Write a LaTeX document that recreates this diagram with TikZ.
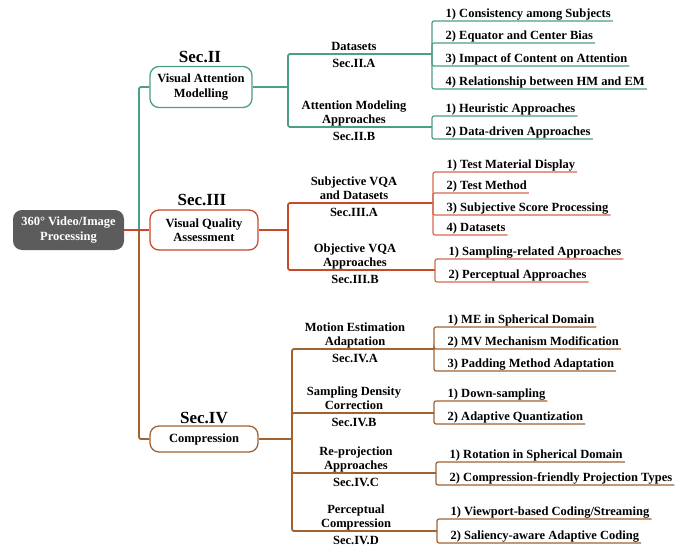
\documentclass[tikz,border=0pt]{standalone}
\usepackage{fontspec}
\setmainfont{Liberation Serif}
\definecolor{cgreen}{RGB}{76,158,132}
\definecolor{cred}{RGB}{200,72,42}
\definecolor{credl}{RGB}{214,105,80}
\definecolor{cbrown}{RGB}{160,99,48}
\definecolor{croot}{RGB}{92,92,92}
\begin{document}
\begin{tikzpicture}[x=1pt,y=-1pt,
  txt/.style={font=\fontsize{12.5}{14.5}\selectfont\bfseries, inner sep=0pt},
  secbox/.style={txt, draw, line width=1.3pt, rounded corners=9pt, fill=white, align=center, minimum width=108pt, minimum height=40pt},
  rootbox/.style={txt, fill=croot, text=white, rounded corners=9pt, align=center, minimum width=111pt, minimum height=40pt},
  bigsec/.style={font=\fontsize{17}{20}\selectfont\bfseries, inner sep=0pt},
  mid/.style={txt, align=center, anchor=south, text depth=3pt},
  seclbl/.style={txt, anchor=base},
  leaf/.style={txt, anchor=south west, inner xsep=2pt, inner ysep=0pt, text depth=3pt},
  mainline/.style={line width=1.8pt, rounded corners=2pt},
  leafline/.style={line width=1.2pt, rounded corners=2pt},
  gline/.style={mainline, draw=cgreen},
  rline/.style={mainline, draw=cred},
  bline/.style={mainline, draw=cbrown},
  gleaf/.style={leafline, draw=cgreen},
  rleaf/.style={leafline, draw=credl},
  bleaf/.style={leafline, draw=cbrown},
]
\useasboundingbox (0,0) rectangle (689,546);

% root and sections
\node[rootbox] (root) at (68.5,230) {360° Video/Image\\Processing};
\node[secbox, draw=cgreen, minimum width=102pt, minimum height=41pt] (sII) at (201,87) {Visual Attention\\Modelling};
\node[secbox, draw=cred] (sIII) at (204,230) {Visual Quality\\Assessment};
\node[secbox, draw=cbrown, minimum height=26pt] (sIV) at (204,439) {Compression};
\node[bigsec] (lII) at (200,57) {Sec.II};
\node[bigsec] (lIII) at (202,200) {Sec.III};
\node[bigsec] (lIV) at (204,418) {Sec.IV};

\coordinate (tj) at (139,230);
\draw[gline] (sII.west) -| (tj);
\draw[bline] (tj) |- (sIV.west);
\draw[rline] (root.east) -- (sIII.west);

% ---------- Sec.II ----------
\coordinate (j2) at (288,87);
\coordinate (aA) at (432,54);
\coordinate (aB) at (432,127);
\draw[gline] (sII.east) -- (j2);
\draw[gline] (j2) |- (aA);
\draw[gline] (j2) |- (aB);
\node[mid] (tA) at (354,54) {Datasets};
\node[seclbl] (sA) at (354,67) {Sec.II.A};
\node[mid] (tB) at (354,127) {Attention Modeling\\Approaches};
\node[seclbl] (sB) at (354,140) {Sec.II.B};

\node[leaf] (a1) at (443.5,21) {1) Consistency among Subjects};
\node[leaf] (a2) at (443.5,43) {2) Equator and Center Bias};
\node[leaf] (a3) at (443.5,66) {3) Impact of Content on Attention};
\node[leaf] (a4) at (443.5,89) {4) Relationship between HM and EM};
\foreach \n in {a1,a2,a3,a4} \draw[gleaf] (aA) |- (\n.south east);
\node[leaf] (b1) at (443.5,116) {1) Heuristic Approaches};
\node[leaf] (b2) at (443.5,139) {2) Data-driven Approaches};
\foreach \n in {b1,b2} \draw[gleaf] (aB) |- (\n.south east);

% ---------- Sec.III ----------
\coordinate (j3) at (288,230);
\coordinate (cA) at (433,203);
\coordinate (cB) at (435,270);
\draw[rline] (sIII.east) -- (j3);
\draw[rline] (j3) |- (cA);
\draw[rline] (j3) |- (cB);
\node[mid] (tC) at (354,203) {Subjective VQA\\and Datasets};
\node[seclbl] (sC) at (354,216) {Sec.III.A};
\node[mid] (tD) at (355,270) {Objective VQA\\Approaches};
\node[seclbl] (sD) at (355,283) {Sec.III.B};

\node[leaf] (c1) at (444.5,172) {1) Test Material Display};
\node[leaf] (c2) at (444.5,193) {2) Test Method};
\node[leaf] (c3) at (444.5,215) {3) Subjective Score Processing};
\node[leaf] (c4) at (444.5,235) {4) Datasets};
\foreach \n in {c1,c2,c3,c4} \draw[rleaf] (cA) |- (\n.south east);
\node[leaf] (d1) at (446.5,259) {1) Sampling-related Approaches};
\node[leaf] (d2) at (446.5,282) {2) Perceptual Approaches};
\foreach \n in {d1,d2} \draw[rleaf] (cB) |- (\n.south east);

% ---------- Sec.IV ----------
\coordinate (j4) at (292,439);
\coordinate (eA) at (434,349);
\coordinate (eB) at (434,413);
\coordinate (eC) at (436,473);
\coordinate (eD) at (437,531);
\draw[bline] (sIV.east) -- (j4);
\foreach \c in {eA,eB,eC,eD} \draw[bline] (j4) |- (\c);
\node[mid] (tE) at (355,349) {Motion Estimation\\Adaptation};
\node[seclbl] (sE) at (355,362) {Sec.IV.A};
\node[mid] (tF) at (354,413) {Sampling Density\\Correction};
\node[seclbl] (sF) at (354,426) {Sec.IV.B};
\node[mid] (tG) at (356,473) {Re-projection\\Approaches};
\node[seclbl] (sG) at (356,486) {Sec.IV.C};
\node[mid] (tH) at (356,531) {Perceptual\\Compression};
\node[seclbl] (sH) at (356,544) {Sec.IV.D};

\node[leaf] (e1) at (445.5,327) {1) ME in Spherical Domain};
\node[leaf] (e2) at (445.5,349) {2) MV Mechanism Modification};
\node[leaf] (e3) at (445.5,371) {3) Padding Method Adaptation};
\foreach \n in {e1,e2,e3} \draw[bleaf] (eA) |- (\n.south east);
\node[leaf] (f1) at (445.5,401) {1) Down-sampling};
\node[leaf] (f2) at (445.5,424) {2) Adaptive Quantization};
\foreach \n in {f1,f2} \draw[bleaf] (eB) |- (\n.south east);
\node[leaf] (g1) at (447.5,462) {1) Rotation in Spherical Domain};
\node[leaf] (g2) at (447.5,485) {2) Compression-friendly Projection Types};
\foreach \n in {g1,g2} \draw[bleaf] (eC) |- (\n.south east);
\node[leaf] (h1) at (448.5,519) {1) Viewport-based Coding/Streaming};
\node[leaf] (h2) at (448.5,543) {2) Saliency-aware Adaptive Coding};
\foreach \n in {h1,h2} \draw[bleaf] (eD) |- (\n.south east);
\end{tikzpicture}
\end{document}
